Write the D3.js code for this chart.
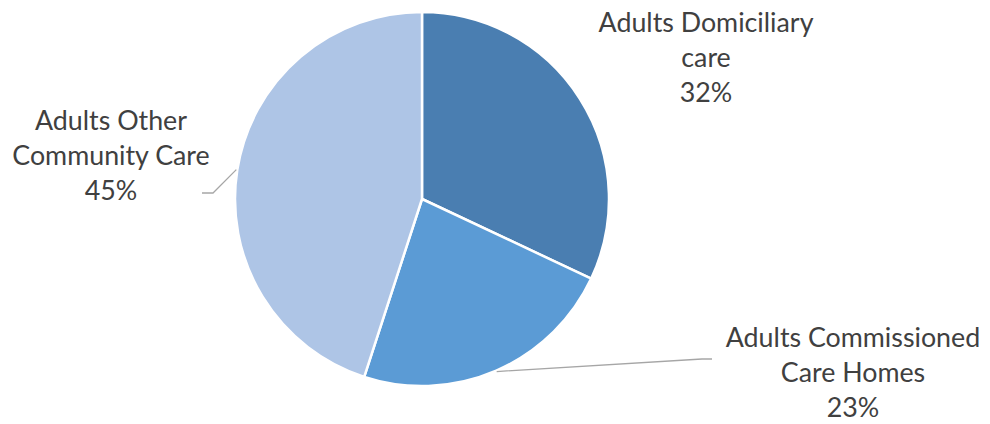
<!DOCTYPE html>
<html>
<head>
<meta charset="utf-8">
<script src="https://cdn.jsdelivr.net/npm/d3@7"></script>
<style>
  html, body { margin: 0; padding: 0; background: #ffffff; }
  svg { display: block; }
</style>
</head>
<body>
<svg id="chart" width="990" height="424"></svg>
<script>
// ---- data ----
const categories = ["Adults Domiciliary care", "Adults Commissioned Care Homes", "Adults Other Community Care"];
const values = [32, 23, 45];
const labelLines = [["Adults Domiciliary", "care"], ["Adults Commissioned", "Care Homes"], ["Adults Other", "Community Care"]];
const colors = ["#4a7eb1", "#5b9bd5", "#aec5e6"];

// ---- layout ----
const W = 990, H = 424;
const cx = 422, cy = 199, R = 187;
const fontFamily = "Lato, 'Open Sans', sans-serif";
const fontSize = 26.8;
const lineH = 35;
// label anchor (centre x, first baseline y), leader elbow/end (null = no leader)
const labelLayout = [
  { x: 706, y: 32, leader: null },
  { x: 853, y: 347, leader: { elbow: [702, 359], end: [712, 359] } },
  { x: 111, y: 130, leader: { elbow: [213, 193], end: [202, 193] } }
];

const svg = d3.select("#chart");
const g = svg.append("g").attr("transform", `translate(${cx},${cy})`);

const data = categories.map((c, i) => ({ name: c, value: values[i], lines: labelLines[i], color: colors[i], i }));
const pie = d3.pie().value(d => d.value).sort(null);
const arcs = pie(data);
const arc = d3.arc().innerRadius(0).outerRadius(R);

g.selectAll("path.slice")
  .data(arcs)
  .join("path")
  .attr("class", "slice")
  .attr("d", arc)
  .attr("fill", d => d.data.color)
  .attr("stroke", "#ffffff")
  .attr("stroke-width", 2.5)
  .attr("stroke-linejoin", "round");

// leader lines
arcs.forEach(a => {
  const L = labelLayout[a.data.i].leader;
  if (!L) return;
  const mid = (a.startAngle + a.endAngle) / 2;
  const sx = cx + Math.sin(mid) * (R + 1);
  const sy = cy - Math.cos(mid) * (R + 1);
  svg.append("polyline")
    .attr("points", [[sx, sy], L.elbow, L.end].map(p => p.join(",")).join(" "))
    .attr("fill", "none")
    .attr("stroke", "#a6a6a6")
    .attr("stroke-width", 1.3);
});

// labels
const pct = d3.format(".0%");
arcs.forEach(a => {
  const lay = labelLayout[a.data.i];
  const t = svg.append("text")
    .attr("x", lay.x)
    .attr("y", lay.y)
    .attr("text-anchor", "middle")
    .attr("font-family", fontFamily)
    .attr("font-size", fontSize)
    .attr("fill", "#404040");
  const lines = a.data.lines.concat([pct(a.data.value / 100)]);
  lines.forEach((ln, k) => {
    t.append("tspan").attr("x", lay.x).attr("y", lay.y + k * lineH).text(ln);
  });
});
</script>
</body>
</html>
